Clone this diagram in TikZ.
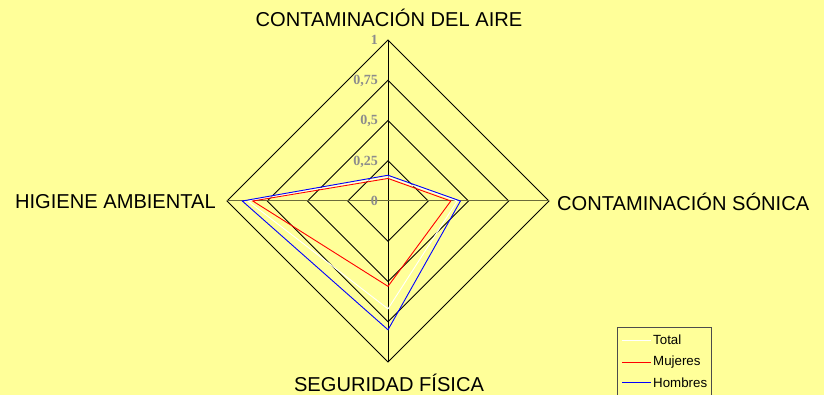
\documentclass[tikz,border=0pt]{standalone}
\usepackage{fontspec}
\usetikzlibrary{calc}
\setmainfont{Liberation Sans}
\newfontfamily\tickfont{Liberation Serif}
\definecolor{bg}{HTML}{FFFF99}
\definecolor{axisol}{HTML}{6B6B3A}
\definecolor{tickgray}{HTML}{8C8C8C}
\definecolor{serblue}{HTML}{0000FF}
\begin{document}
\begin{tikzpicture}[x=1pt,y=-1pt,
  ring/.style={draw=black,line width=0.9pt},
  series/.style={line width=0.9pt},
  axlabel/.style={font=\fontsize{20.1}{21}\selectfont,inner sep=0pt},
  ticklbl/.style={font=\tickfont\bfseries\fontsize{14}{15}\selectfont,text=tickgray,anchor=east,inner sep=0pt},
  legtext/.style={font=\fontsize{13.3}{14}\selectfont,anchor=west,inner sep=0pt},
  legline/.style={line width=1.2pt}]
\fill[bg] (0,0) rectangle (824,395);
\useasboundingbox (0,0) rectangle (824,395);
\coordinate (c) at (388,201);
\def\R{161}
% rings
\foreach \k in {0.25,0.5,0.75,1}{
  \draw[ring] ($(c)+(0,-\k*\R)$) -- ($(c)+(\k*\R,0)$) -- ($(c)+(0,\k*\R)$) -- ($(c)+(-\k*\R,0)$) -- cycle;
}
\coordinate (top) at ($(c)+(0,-\R)$);
\coordinate (bot) at ($(c)+(0,\R)$);
\coordinate (lef) at ($(c)+(-\R,0)$);
\coordinate (rig) at ($(c)+(\R,0)$);
\draw[black,line width=0.9pt] (top) -- (bot);
\draw[axisol,line width=1pt] (lef) -- (rig);
% series
\draw[series,white] ($(c)+(0,-0.15*\R)$) -- ($(c)+(0.43*\R,0)$) -- ($(c)+(0,0.67*\R)$) -- ($(c)+(-0.87*\R,0)$) -- cycle;
\draw[series,red] ($(c)+(0,-0.14*\R)$) -- ($(c)+(0.39*\R,0)$) -- ($(c)+(0,0.53*\R)$) -- ($(c)+(-0.84*\R,0)$) -- cycle;
\draw[series,serblue] ($(c)+(0,-0.16*\R)$) -- ($(c)+(0.45*\R,0)$) -- ($(c)+(0,0.80*\R)$) -- ($(c)+(-0.905*\R,0)$) -- cycle;
% tick labels
\node[ticklbl] (t1) at (378,40) {1};
\node[ticklbl] (t2) at (378,81) {0,75};
\node[ticklbl] (t3) at (378,121) {0,5};
\node[ticklbl] (t4) at (378,162) {0,25};
\node[ticklbl] (t5) at (378,201) {0};
% axis labels
\node[axlabel] (la) at (389,18) {CONTAMINACIÓN DEL AIRE};
\node[axlabel,anchor=east] (lb) at (216,202) {HIGIENE AMBIENTAL};
\node[axlabel,anchor=west] (lc) at (557,202) {CONTAMINACIÓN SÓNICA};
\node[axlabel] (ld) at (389,383) {SEGURIDAD FÍSICA};
% legend
\draw[black!70,line width=0.8pt] (617,327) rectangle (711,396);
\draw[legline,white] (622,340.5) -- (651,340.5);
\draw[legline,red] (622,362.5) -- (651,362.5);
\draw[legline,serblue] (622,382.5) -- (651,382.5);
\node[legtext] (l1) at (653,340) {Total};
\node[legtext] (l2) at (653,362) {Mujeres};
\node[legtext] (l3) at (653,383) {Hombres};
\end{tikzpicture}
\end{document}
